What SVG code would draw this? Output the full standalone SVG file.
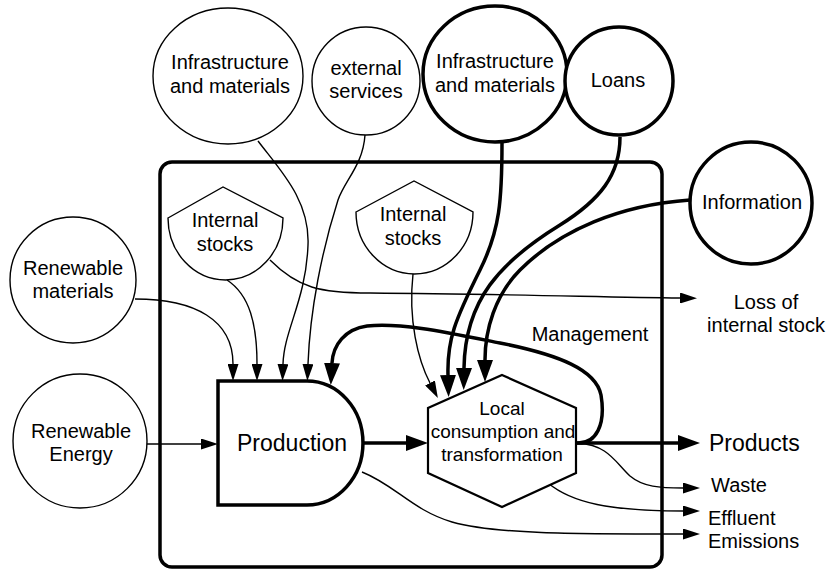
<svg xmlns="http://www.w3.org/2000/svg" width="828" height="571" viewBox="0 0 828 571">
  <style>
    text { font-family: "Liberation Sans", Arial, sans-serif; font-size: 20px; fill: #000; text-anchor: middle; }
    .thin { fill: #fff; stroke: #000; stroke-width: 1.4; }
    .bold { fill: #fff; stroke: #000; stroke-width: 3.5; }
    .c-thin { fill: none; stroke: #000; stroke-width: 1.4; }
    .c-bold { fill: none; stroke: #000; stroke-width: 3.5; }
    .left { text-anchor: start; }
  </style>
  <defs>
    <marker id="head-thin" markerUnits="userSpaceOnUse" markerWidth="17" markerHeight="11" refX="0" refY="5.5" orient="auto">
      <path d="M0,0 L17,5.5 L0,11 Z" fill="#000"/>
    </marker>
    <marker id="head-bold" markerUnits="userSpaceOnUse" markerWidth="22" markerHeight="16" refX="0" refY="8" orient="auto">
      <path d="M0,0 L22,8 L0,16 Z" fill="#000"/>
    </marker>
  </defs>

  <!-- system boundary -->
  <rect id="system-boundary" x="160" y="162" width="502" height="405" rx="12" ry="12" fill="none" stroke="#000" stroke-width="3.5"/>

  <!-- flows -->
  <g id="connectors">
    <path class="c-thin" d="M147,444 L201,444" marker-end="url(#head-thin)"/>
    <path class="c-thin" d="M135,299 C195,299 233,320 233,364" marker-end="url(#head-thin)"/>
    <path class="c-thin" d="M227,280 C250,295 257,325 257,364" marker-end="url(#head-thin)"/>
    <path class="c-thin" d="M258,141 C280,170 310,200 308,245 C306,300 284,330 283,364" marker-end="url(#head-thin)"/>
    <path class="c-thin" d="M365,135 C363,165 345,180 338,200 C322,250 310,310 308,364" marker-end="url(#head-thin)"/>
    <path class="c-thin" d="M270,260 C298,288 320,293 370,293 C500,294 600,297 680,298" marker-end="url(#head-thin)"/>
    <path class="c-thin" d="M413,274 C408,320 418,360 430,383" marker-end="url(#head-thin)"/>
    <path class="c-bold" d="M502,142 C502,200 500,230 480,270 C455,320 447,340 448,375" marker-end="url(#head-bold)"/>
    <path class="c-bold" d="M620,137 C620,175 600,200 560,225 C500,262 465,300 464,368" marker-end="url(#head-bold)"/>
    <path class="c-bold" d="M690,200 C620,205 560,230 520,270 C495,295 485,330 485,360" marker-end="url(#head-bold)"/>
    <path class="c-bold" d="M577,443 C596,444 606,425 601,395 C596,370 560,355 500,343 C450,333 400,322 367,326 C345,329 333,345 332,363" marker-end="url(#head-bold)"/>
    <path class="c-bold" d="M363,443 L406,443" marker-end="url(#head-bold)"/>
    <path class="c-bold" d="M576,443 L678,443" marker-end="url(#head-bold)"/>
    <path class="c-thin" d="M578,443 C608,445 615,462 630,476 C643,487 660,488 683,488" marker-end="url(#head-thin)"/>
    <path class="c-thin" d="M548,483 C572,503 610,511 683,511" marker-end="url(#head-thin)"/>
    <path class="c-thin" d="M362,472 C395,485 412,510 452,522 C495,534 570,534 683,534" marker-end="url(#head-thin)"/>
  </g>

  <!-- external sources -->
  <g id="infra-materials-1">
    <ellipse class="thin" cx="228" cy="76" rx="75" ry="68"/>
    <text x="230" y="69">Infrastructure</text>
    <text x="230" y="93">and materials</text>
  </g>
  <g id="external-services">
    <circle class="thin" cx="366" cy="81" r="54"/>
    <text x="366" y="75">external</text>
    <text x="366" y="98">services</text>
  </g>
  <g id="infra-materials-2">
    <ellipse class="bold" cx="495" cy="74" rx="72" ry="68"/>
    <text x="495" y="68">Infrastructure</text>
    <text x="495" y="92">and materials</text>
  </g>
  <g id="loans">
    <circle class="bold" cx="619" cy="81" r="54"/>
    <text x="618" y="87">Loans</text>
  </g>
  <g id="information">
    <circle class="bold" cx="751" cy="203" r="61"/>
    <text x="752" y="209">Information</text>
  </g>
  <g id="renewable-materials">
    <circle class="thin" cx="73" cy="280" r="63"/>
    <text x="73" y="275">Renewable</text>
    <text x="73" y="298">materials</text>
  </g>
  <g id="renewable-energy">
    <circle class="thin" cx="80" cy="441" r="67"/>
    <text x="81" y="438">Renewable</text>
    <text x="81" y="461">Energy</text>
  </g>

  <!-- internal components -->
  <g id="internal-stocks-1">
    <path class="thin" d="M168,218 L223,187 L283,218 A57.5,62 0 0 1 168,218 Z"/>
    <text x="225" y="227">Internal</text>
    <text x="225" y="251">stocks</text>
  </g>
  <g id="internal-stocks-2">
    <path class="thin" d="M356,212 L414,181 L473,212 A58.5,62 0 0 1 356,212 Z"/>
    <text x="413" y="221">Internal</text>
    <text x="413" y="245">stocks</text>
  </g>
  <g id="production">
    <path class="bold" d="M218,381 L307,381 A56,62 0 0 1 307,505 L218,505 Z"/>
    <text x="292" y="451" style="font-size:23px">Production</text>
  </g>
  <g id="local-consumption">
    <polygon points="502,375 576,408 576,473 502,507 428,473 428,408" fill="#fff" stroke="#000" stroke-width="2.2"/>
    <text x="502" y="415" style="font-size:19px">Local</text>
    <text x="503" y="438" style="font-size:19px">consumption and</text>
    <text x="502" y="461" style="font-size:19px">transformation</text>
  </g>

  <!-- labels -->
  <g id="management">
    <text x="590" y="341">Management</text>
  </g>
  <g id="outputs">
    <text x="766" y="309">Loss of</text>
    <text x="766" y="332">internal stock</text>
    <text class="left" x="709" y="451" style="font-size:23px">Products</text>
    <text class="left" x="711" y="492">Waste</text>
    <text class="left" x="708" y="525">Effluent</text>
    <text class="left" x="708" y="548">Emissions</text>
  </g>
</svg>
